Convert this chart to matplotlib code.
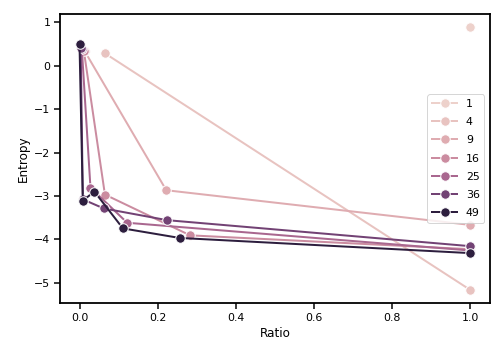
#!/usr/bin/env python3

import matplotlib
matplotlib.use("Agg")
import matplotlib.pyplot as plt
import seaborn as sns

# one list pair per hue level (hue = 1, 4, 9, ..., 49)
levels = [1, 4, 9, 16, 25, 36, 49]

x1, y1 = [1.0], [0.89]
x4, y4 = [0.0645, 1.0], [0.29, -5.17]
x9, y9 = [0.013, 0.222, 1.0], [0.34, -2.87, -3.67]
x16, y16 = [0.011, 0.065, 0.283, 1.0], [0.35, -2.97, -3.91, -4.23]
x25, y25 = [0.006, 0.028, 0.122, 1.0], [0.38, -2.81, -3.62, -4.26]
x36, y36 = [0.003, 0.0085, 0.062, 0.224, 1.0], [0.42, -3.08, -3.29, -3.56, -4.16]
x49, y49 = [0.0, 0.0085, 0.038, 0.111, 0.256, 1.0], [0.50, -3.11, -2.90, -3.75, -3.97, -4.32]

xs = [x1, x4, x9, x16, x25, x36, x49]
ys = [y1, y4, y9, y16, y25, y36, y49]

cmap = sns.color_palette("ch:", as_cmap=True)
norm = plt.Normalize(min(levels), max(levels))

fig = plt.figure(figsize=(7, 5), dpi=72)
ax = fig.add_axes([0.119, 0.158, 0.853, 0.803])

for n, x, y in zip(levels, xs, ys):
    ax.plot(x, y, "-o", color=cmap(norm(n)), lw=2, ms=9.5,
            mec="w", mew=1, label=str(n))

ax.set_xlabel("Ratio", fontsize=12)
ax.set_ylabel("Entropy", fontsize=12)
ax.tick_params(labelsize=11, length=6, width=1.5)
for s in ax.spines.values():
    s.set_linewidth(1.8)

ax.legend(loc="center right", fontsize=11, labelspacing=0.75,
          handlelength=2.3)

fig.savefig("out.png", dpi=72)
